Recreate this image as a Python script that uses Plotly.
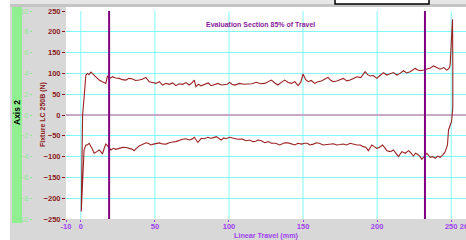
import plotly.graph_objects as go

# ---------------- data ----------------
fwd_travel = [0.3, 0.6, 1.2, 2.4, 3.4, 4.5, 5.5, 6.8, 8.0, 9.0, 10.5, 12.4, 14.5, 16.9, 18.0, 19.5,
              21.4, 23.5, 25.9, 28.0, 30.4, 32.5, 34.9, 37.0, 39.4, 41.5, 43.9, 46.2, 48.5, 50.7,
              53.0, 55.2, 57.5, 59.7, 62.0, 64.2, 66.5, 68.7, 71.0, 73.2, 75.0, 76.6, 77.7, 79.5,
              81.1, 83.6, 86.0, 88.0, 90.3, 92.6, 95.0, 97.1, 98.8, 100.5, 102.0, 103.9, 105.5,
              107.2, 110.0, 112.8, 115.5, 118.5, 121.3, 124.1, 126.5, 128.6, 131.0, 133.1, 135.5,
              137.6, 140.0, 142.1, 144.5, 146.6, 148.5, 150.0, 151.8, 153.4, 155.5, 157.9, 160.0,
              162.4, 164.5, 166.9, 168.5, 170.3, 172.8, 175.0, 177.2, 179.5, 181.8, 184.0, 186.3,
              189.0, 191.9, 193.5, 195.3, 197.5, 199.8, 202.0, 204.3, 206.5, 208.8, 211.0, 213.3,
              215.5, 217.8, 220.0, 222.3, 224.0, 225.7, 227.5, 229.1, 231.5, 233.6, 236.0, 238.1,
              240.5, 242.6, 245.0, 247.1, 248.5, 249.3, 249.8, 250.4, 250.9, 251.1, 251.1, 250.3,
              249.0, 248.2]
fwd_force = [-232, -110, 0, 50, 96, 100, 97, 103, 99, 96, 90, 84, 80, 76, 94, 88,
             92, 89, 88, 85, 84, 88, 86.5, 83, 84, 86, 90.5, 80, 78, 76,
             80, 72, 76, 73.7, 77, 70.5, 75, 73.7, 78, 72, 77, 84, 68, 74,
             70, 73.7, 77, 70.5, 74, 76, 72, 73.7, 74, 78.5, 74, 72, 74,
             76, 74, 73.7, 75, 78.5, 75, 76, 80, 84, 77, 72, 79,
             84, 78, 76, 80, 70.5, 79, 98.5, 85, 80, 83, 76, 80,
             81.7, 86, 90.5, 84, 80, 81.7, 85, 88, 82, 84, 88, 92,
             90, 104, 97, 93.7, 95, 88, 95, 101.7, 96, 98.5, 102, 96,
             100, 106.5, 101, 104, 108, 112, 108, 106.5, 108, 110, 113, 118,
             113, 110, 114, 108, 112, 120, 156, 200, 230, 120, 20, -15,
             -30, -36]

rev_travel = [247.5, 246.0, 244.5, 242.6, 241.0, 239.2, 237.5, 235.8, 233.6, 232.0, 230.2, 229.0,
              227.9, 226.0, 224.5, 222.5, 221.2, 219.0, 216.7, 214.4, 212.5, 211.0, 209.0, 206.6,
              205.0, 203.6, 201.5, 199.8, 198.0, 196.4, 194.1, 192.5, 190.7, 188.5, 186.3, 184.0,
              181.8, 179.5, 177.2, 175.0, 172.8, 170.5, 168.2, 166.0, 163.5, 161.0, 159.0, 157.0,
              154.5, 153.0, 151.1, 149.0, 146.6, 144.5, 142.1, 140.0, 137.6, 136.0, 134.3, 131.5,
              128.6, 126.5, 124.1, 122.0, 119.6, 118.0, 116.2, 114.0, 111.7, 109.0, 106.1, 103.0,
              100.5, 98.0, 96.5, 94.8, 93.0, 91.4, 89.0, 87.5, 85.8, 83.5, 81.3, 79.0, 76.6, 75.0,
              73.2, 71.0, 68.7, 66.5, 64.2, 62.0, 59.7, 57.5, 55.2, 53.0, 50.7, 49.0, 47.3, 45.5,
              43.9, 41.5, 39.4, 37.5, 36.0, 34.5, 32.6, 30.5, 28.2, 26.0, 23.6, 22.0, 20.3, 18.5,
              16.9, 15.8, 14.6, 13.5, 12.4, 10.8, 9.0, 7.5, 5.6, 4.4, 3.4, 2.2, 1.6, 1.1, 0.6, 0.3]
rev_force = [-72, -88, -95, -101.7, -99, -104, -100, -101.7, -92, -98, -106.5, -100,
             -96, -92, -98.5, -90, -85.8, -92, -88, -100, -90, -84, -88, -85.8,
             -78, -72, -78, -80, -76, -72, -85.8, -78, -76, -72, -72, -70,
             -68, -72, -69.7, -71, -72, -69, -69.7, -72, -72, -68, -66.6, -70,
             -72, -68, -68, -70, -68, -72, -69.7, -67, -66.6, -70, -72, -68,
             -68, -64, -66.6, -62, -60, -63, -64, -60, -61.7, -58, -58.4, -56,
             -53.6, -57, -55, -60, -55, -52, -55, -56, -53.6, -57, -56, -66, -53.6, -58,
             -60, -57, -58.4, -62, -64, -65, -66.6, -70, -69.7, -67, -68, -70, -72, -68,
             -66.6, -70, -74.5, -80, -85.8, -82, -80, -78, -77.8, -80, -82.5, -80, -84, -76,
             -69.7, -80, -93.7, -88, -84, -88, -92, -80, -68, -72, -72, -84, -130, -188, -220, -232]

eval_bounds = [19.1, 232.3]
x_labels = [-10, 0, 50, 100, 150, 200, 250, 260]
x_grid = [0, 50, 100, 150, 200, 250]
y_ticks = [-250, -200, -150, -100, -50, 0, 50, 100, 150, 200, 250]
y2_ticks = [-10, -8, -6, -4, -2, 0, 2, 4, 6, 8, 10]

# ---------------- styling ----------------
FONT = "Liberation Sans, Arial, sans-serif"
RED = "#8b1a1a"
LINE_RED = "#9c2222"
PURPLE = "#a040f0"
EVAL_PURPLE = "#8a1a9a"
GREEN = "#8fe88f"
CYAN = "#80f8f8"
GREY = "#d8d8d8"

W, H = 466, 240
ML, MR, MT, MB = 66, 0, 11, 21
PW, PH = W - ML - MR, H - MT - MB


def px_x(px):
    return (px - ML) / PW


def px_y(py):
    return (H - MB - py) / PH


fig = go.Figure()
fig.add_trace(go.Scatter(
    x=fwd_travel + rev_travel, y=fwd_force + rev_force,
    mode="lines", line=dict(color=LINE_RED, width=1.1),
    showlegend=False, hoverinfo="skip"))
fig.add_trace(go.Scatter(x=[], y=[], yaxis="y2", showlegend=False))

shapes = []
# background decorations in margins
shapes.append(dict(type="rect", xref="paper", yref="paper", x0=px_x(0), x1=px_x(10),
                   y0=px_y(240), y1=px_y(0), fillcolor="white", line=dict(width=0), layer="below"))
shapes.append(dict(type="rect", xref="paper", yref="paper", x0=px_x(10), x1=px_x(466),
                   y0=px_y(4), y1=px_y(0), fillcolor="#e6e6e6", line=dict(width=0), layer="below"))
shapes.append(dict(type="rect", xref="paper", yref="paper", x0=px_x(10), x1=px_x(466),
                   y0=px_y(7), y1=px_y(4), fillcolor="#c4c4c4", line=dict(width=0), layer="below"))
shapes.append(dict(type="rect", xref="paper", yref="paper", x0=0, x1=1,
                   y0=1, y1=px_y(7), fillcolor="white", line=dict(width=0), layer="below"))
shapes.append(dict(type="rect", xref="paper", yref="paper", x0=px_x(335), x1=px_x(429),
                   y0=px_y(4), y1=px_y(-3), fillcolor="white", line=dict(color="black", width=1.5)))
shapes.append(dict(type="rect", xref="paper", yref="paper", x0=px_x(12), x1=px_x(22),
                   y0=px_y(223), y1=px_y(7), fillcolor="#90f090", line=dict(width=0), layer="below"))
# vertical grid lines
for gx in x_grid:
    shapes.append(dict(type="line", xref="x", yref="y", x0=gx, x1=gx, y0=-250, y1=250,
                       line=dict(color=CYAN, width=1), layer="below"))
# evaluation section lines
for bx in eval_bounds:
    shapes.append(dict(type="line", xref="x", yref="y", x0=bx, x1=bx, y0=-250, y1=250,
                       line=dict(color="#800080", width=2)))

annotations = [
    dict(text="Evaluation Section 85% of Travel", xref="paper", yref="paper",
         x=px_x(260), y=px_y(25), showarrow=False, xanchor="center", yanchor="middle",
         font=dict(family=FONT, size=7, color=EVAL_PURPLE, weight="bold")),
    dict(text="Fixture LC 250B (N)", xref="paper", yref="paper",
         x=px_x(43), y=px_y(115), showarrow=False, textangle=-90,
         xanchor="center", yanchor="middle",
         font=dict(family=FONT, size=7, color=RED, weight="bold")),
    dict(text="Axis 2", xref="paper", yref="paper",
         x=px_x(17), y=px_y(113), showarrow=False, textangle=-90,
         xanchor="center", yanchor="middle",
         font=dict(family=FONT, size=8.5, color="black", weight="bold")),
    dict(text="Linear Travel (mm)", xref="paper", yref="paper",
         x=px_x(266), y=px_y(235.5), showarrow=False, xanchor="center", yanchor="middle",
         font=dict(family=FONT, size=7.2, color=PURPLE, weight="bold")),
]

fig.update_layout(
    width=W, height=H,
    margin=dict(l=ML, r=MR, t=MT, b=MB, pad=0, autoexpand=False),
    paper_bgcolor=GREY, plot_bgcolor="white",
    shapes=shapes, annotations=annotations,
    xaxis=dict(range=[-10, 260], tickvals=x_labels, ticktext=[str(v) for v in x_labels],
               showgrid=False, zeroline=False, showline=False, automargin=False,
               ticks="outside", ticklen=2, tickcolor=PURPLE,
               ticklabelstandoff=-2, ticklabeloverflow="allow",
               tickfont=dict(family=FONT, size=7.5, color=PURPLE, weight="bold")),
    yaxis=dict(range=[-250, 250], tickvals=y_ticks, showgrid=True, gridcolor=CYAN, gridwidth=1,
               zeroline=True, zerolinecolor="#c8a8c8", zerolinewidth=2, showline=False,
               automargin=False, ticks="outside", ticklen=3, tickcolor=RED,
               tickfont=dict(family=FONT, size=7.5, color=RED, weight="bold")),
    yaxis2=dict(range=[-10, 10], tickvals=y2_ticks, overlaying="y", anchor="free",
                position=0, shift=-34, side="left", showgrid=False, zeroline=False,
                showline=False, automargin=False, ticks="outside", ticklen=2, tickcolor=GREEN,
                tickfont=dict(family=FONT, size=7.5, color=GREEN)),
)

fig.write_html("out.html", config={"displayModeBar": False},
               post_script="document.body.style.margin='0';document.body.style.overflow='hidden';")
